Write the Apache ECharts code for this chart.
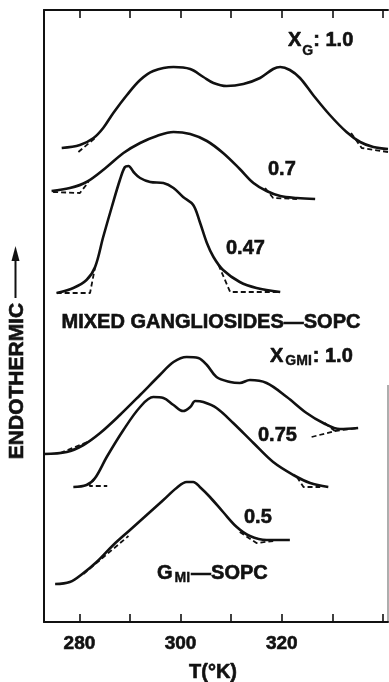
<!DOCTYPE html>
<html>
<head>
<meta charset="utf-8">
<script src="https://cdn.jsdelivr.net/npm/echarts@6/dist/echarts.min.js"></script>
<style>
html,body{margin:0;padding:0;background:#fff;}
#chart{width:389px;height:682px;}
</style>
</head>
<body>
<div id="chart"></div>
<script>
// Temperature axis (K)
const tempTicks = [280, 290, 300, 310, 320, 330, 340];
const tempLabels = [280, 300, 320];

// Thermograms: [T (K), endothermic signal, arbitrary offset units]
const xg10 = [[276.5,474],[280.1,477],[282.8,484],[284.7,494],[286.7,509],[289.4,527],[292.0,542],[294.6,551],[298.6,555],[301.9,553],[304.5,545],[306.5,539],[309.1,536],[312.4,538],[315.7,544],[318.3,553],[319.7,555],[321.6,552],[323.6,544],[326.2,527],[329.5,507],[332.8,490],[335.5,480],[338.1,475],[341.0,473]];
const xg07 = [[274.5,431],[278.1,434],[281.4,440],[285.4,455],[288.7,469],[292.0,479],[295.3,486],[298.6,490],[301.9,488],[305.2,481],[308.4,469],[311.7,453],[314.4,439],[317.0,431],[319.7,426],[323.0,424],[326.6,423]];
const xg047 = [[275.5,329],[278.8,334],[281.4,342],[283.1,355],[284.7,385],[286.4,415],[288.0,442],[289.0,455],[289.7,456],[290.7,450],[292.0,444],[294.0,440],[296.6,439],[298.6,434],[300.5,425],[302.5,417],[303.8,400],[305.2,379],[306.5,365],[308.4,352],[311.7,340],[315.0,334],[319.7,330]];
const xgm10 = [[273.0,168],[277.5,170],[280.8,177],[284.1,189],[288.0,207],[292.0,227],[295.9,247],[298.6,260],[301.2,265],[303.5,264],[305.2,257],[307.1,245],[309.8,240],[311.7,239],[313.7,242],[317.0,239],[321.0,225],[324.9,209],[328.2,199],[331.5,193],[335.1,194]];
const xgm075 = [[278.8,135],[281.4,137],[283.1,144],[285.4,165],[288.7,192],[292.0,215],[294.6,225],[296.6,224],[298.6,217],[300.5,211],[301.9,215],[302.9,221],[304.5,220],[307.1,214],[310.4,199],[314.4,179],[318.3,160],[322.3,147],[325.6,139],[329.2,135]];
const xgm05 = [[275.2,38],[278.1,40],[280.8,49],[283.4,60],[286.7,77],[290.0,92],[293.3,107],[296.6,122],[299.2,134],[301.2,140],[302.5,140],[303.8,135],[305.8,125],[308.4,110],[311.1,95],[313.7,86],[317.0,82],[321.6,82]];

// Extrapolated baselines (dashed)
const baseXg10L = [[279.8,470],[283.1,484]];
const baseXg10R = [[333.7,489],[335.8,474],[341.0,470]];
const baseXg07L = [[274.8,430],[280.1,429],[281.8,440]];
const baseXg07R = [[316.7,434],[318.3,424],[323.0,423]];
const baseXg047L = [[275.5,329],[282.1,329],[283.1,355]];
const baseXg047R = [[307.5,357],[309.8,330],[319.7,330]];
const baseXgm10L = [[276.2,169],[282.1,181]];
const baseXgm10R = [[325.9,185],[330.5,191],[335.1,194]];
const baseXgm10R2 = [[328.5,199],[330.5,191]];
const baseXgm075L = [[283.1,144],[282.0,136],[285.5,136]];
const baseXgm075R = [[323.0,145],[324.3,135],[327.6,135]];
const baseXgm05L = [[280.8,48],[289.7,86]];
const baseXgm05R = [[311.7,90],[315.0,79],[318.3,81]];

const solidCurves = [xg10, xg07, xg047, xgm10, xgm075, xgm05];
const dashedCurves = [baseXg10L, baseXg10R, baseXg07L, baseXg07R, baseXg047L, baseXg047R,
  baseXgm10L, baseXgm10R, baseXgm10R2, baseXgm075L, baseXgm075R, baseXgm05L, baseXgm05R];

const INK = '#111';
const F = '"Liberation Sans", Arial, Helvetica, sans-serif';

const series = [];
solidCurves.forEach(d => series.push({
  type: 'line', data: d, symbol: 'none', smooth: 0.35, silent: true,
  lineStyle: { color: INK, width: 2.6 }
}));
dashedCurves.forEach(d => series.push({
  type: 'line', data: d, symbol: 'none', smooth: false, silent: true,
  lineStyle: { color: INK, width: 1.8, type: [5, 3] }
}));

function label(x, y, text, rich, align) {
  return {
    type: 'text', x: x, y: y, silent: true,
    style: {
      text: text, rich: rich, fill: INK, font: 'bold 20px ' + F,
      stroke: INK, lineWidth: 0.6,
      textAlign: align || 'left', textVerticalAlign: 'middle'
    }
  };
}
const richA = {
  a: { fontSize: 20, fontWeight: 'bold', fontFamily: F, fill: INK, stroke: INK, lineWidth: 0.6 },
  s: { fontSize: 14, fontWeight: 'bold', fontFamily: F, fill: INK, stroke: INK, lineWidth: 0.4, padding: [22, 0, 0, 1] },
  t: { fontSize: 14, fontWeight: 'bold', fontFamily: F, fill: INK, stroke: INK, lineWidth: 0.4, padding: [11, 1, 0, 2] }
};

const chart = echarts.init(document.getElementById('chart'), null, { renderer: 'canvas' });
chart.setOption({
  animation: false,
  backgroundColor: '#fff',
  grid: { left: 44, right: 1, top: 10, bottom: 60, containLabel: false },
  xAxis: [{
    type: 'value', min: 273, max: 341, position: 'bottom',
    axisLine: { show: true, lineStyle: { color: INK, width: 2 } },
    axisTick: { show: true, inside: true, length: 8, customValues: tempTicks, lineStyle: { color: INK, width: 1.6 } },
    axisLabel: { show: true, customValues: tempLabels, margin: 12, fontSize: 19, fontWeight: 'bold', fontFamily: F, color: INK, textBorderColor: INK, textBorderWidth: 0.6 },
    splitLine: { show: false }
  }, {
    type: 'value', min: 273, max: 341, position: 'top',
    axisLine: { show: true, lineStyle: { color: INK, width: 2 } },
    axisTick: { show: true, inside: true, length: 8, customValues: tempTicks, lineStyle: { color: INK, width: 1.6 } },
    axisLabel: { show: false },
    splitLine: { show: false }
  }],
  yAxis: {
    type: 'value', min: 0, max: 612,
    axisLine: { show: true, lineStyle: { color: INK, width: 2 } },
    axisTick: { show: false }, axisLabel: { show: false }, splitLine: { show: false }
  },
  series: series,
  graphic: [
    label(288, 40, '{a|X}{s|G}{a|: 1.0}', richA),
    label(268, 169, '0.7'),
    label(226, 248, '0.47'),
    label(211, 322, 'MIXED GANGLIOSIDES\u2014SOPC', null, 'center'),
    label(270, 356, '{a|X}{t|GMI}{a|: 1.0}', richA),
    label(258, 435, '0.75'),
    label(244, 517, '0.5'),
    label(157, 573, '{a|G}{t|MI}{a|\u2014SOPC}', richA),
    {
      type: 'text', x: 213, y: 672, silent: true,
      style: { text: 'T(\u00b0K)', fill: INK, stroke: INK, lineWidth: 0.6, font: 'bold 20px ' + F, textAlign: 'center', textVerticalAlign: 'middle' }
    },
    {
      type: 'text', x: 17, y: 381, rotation: Math.PI / 2, silent: true,
      style: { text: 'ENDOTHERMIC', fill: INK, stroke: INK, lineWidth: 0.6, font: 'bold 21px ' + F, textAlign: 'center', textVerticalAlign: 'middle' }
    },
    {
      type: 'line', silent: true,
      shape: { x1: 15.5, y1: 298, x2: 15.5, y2: 256 },
      style: { stroke: INK, lineWidth: 2 }
    },
    {
      type: 'polygon', silent: true,
      shape: { points: [[15.5, 246], [11.5, 261], [19.5, 261]] },
      style: { fill: INK }
    },
    {
      type: 'line', silent: true,
      shape: { x1: 388, y1: 385, x2: 388, y2: 622 },
      style: { stroke: '#777', lineWidth: 1.2 }
    }
  ]
});
</script>
</body>
</html>
